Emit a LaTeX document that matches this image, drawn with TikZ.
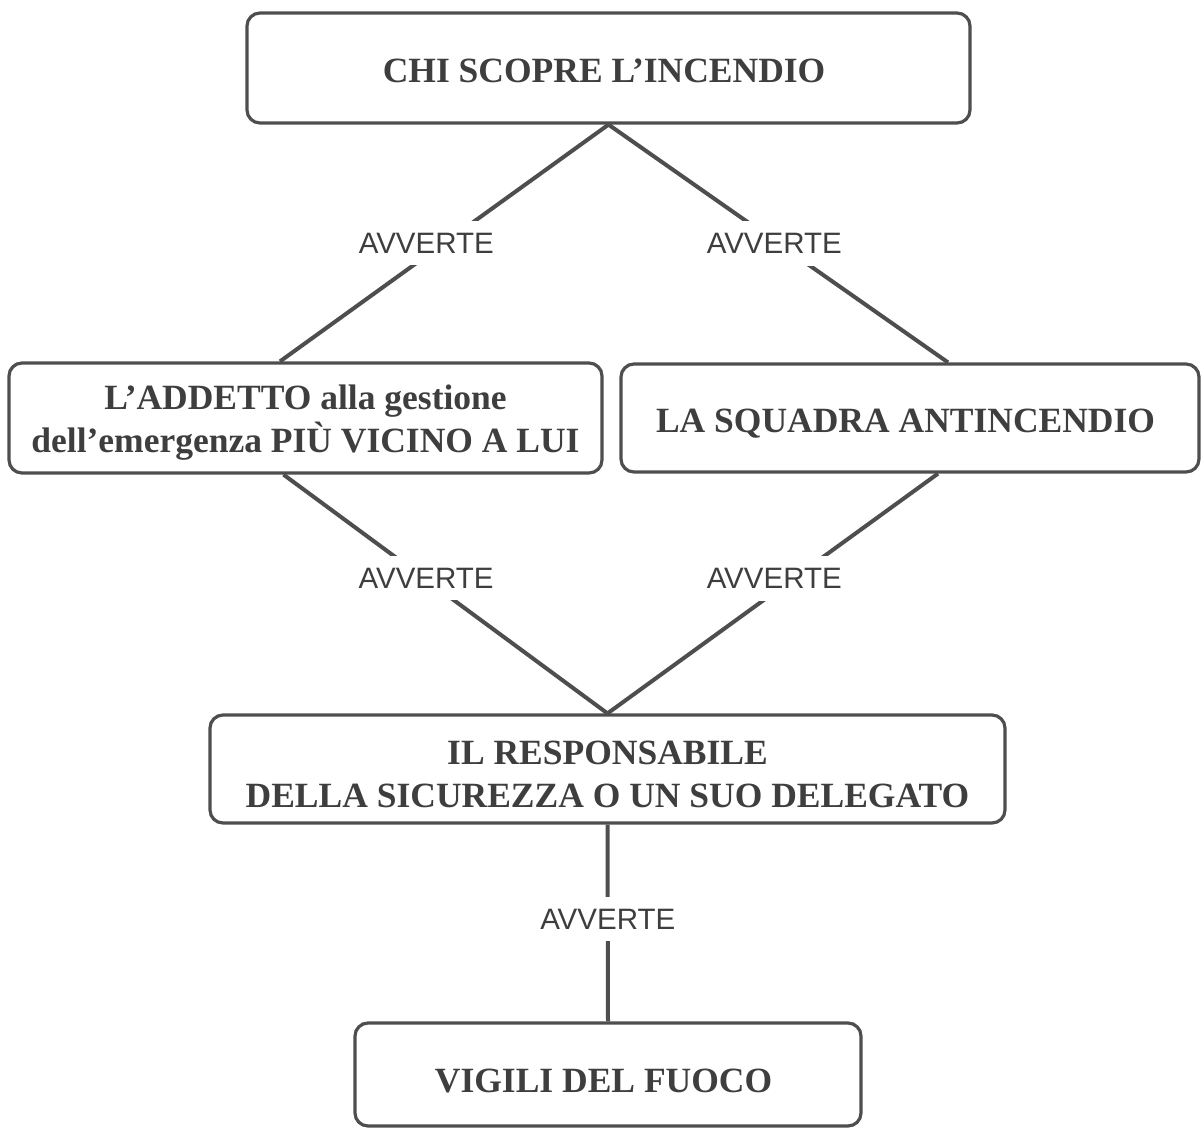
\documentclass[tikz,border=0pt]{standalone}
\usepackage{fontspec}
\setmainfont{Liberation Serif}
\newfontfamily\lblfont{Liberation Sans}
\definecolor{ink}{RGB}{78,78,78}
\definecolor{inktext}{RGB}{62,62,62}

\begin{document}
\begin{tikzpicture}[x=1pt,y=-1pt,
  box/.style={draw=ink,line width=3.2pt,rounded corners=13pt,inner sep=0pt,align=center,text=inktext,text depth=0pt,font=\bfseries\fontsize{35.5}{43}\selectfont},
  lbl/.style={fill=white,inner xsep=6pt,inner ysep=12pt,text=inktext,font=\lblfont\fontsize{29.5}{30}\selectfont},
  link/.style={draw=ink,line width=4pt}]
\useasboundingbox (0,0) rectangle (1203,1128);
\node[box,minimum width=723pt,minimum height=110pt,text height=28pt] (chi)     at (608.5,68)   { CHI SCOPRE L’INCENDIO };
\node[box,minimum width=593pt,minimum height=110pt,text height=68pt] (addetto) at (305.5,418)  { L’ADDETTO alla gestione\\dell’emergenza PIÙ VICINO A LUI };
\node[box,minimum width=578pt,minimum height=108pt,text height=28pt] (squadra) at (910,418)    { LA SQUADRA ANTINCENDIO };
\node[box,minimum width=795pt,minimum height=108pt,text height=76pt] (resp)    at (607.5,769)  { IL RESPONSABILE\\DELLA SICUREZZA O UN SUO DELEGATO };
\node[box,minimum width=506pt,minimum height=103pt,text height=35pt] (vigili)  at (608,1074.5) { VIGILI DEL FUOCO };
\draw[link] (chi.south)                  -- node[lbl,pos=0.5,xshift=-18pt]  {AVVERTE} ([xshift=-25.5pt]addetto.north);
\draw[link] (chi.south)                  -- node[lbl,pos=0.5,xshift=-4pt]   {AVVERTE} ([xshift=38pt]squadra.north);
\draw[link] ([xshift=-22pt]addetto.south) -- node[lbl,pos=0.434,xshift=2pt] {AVVERTE} (resp.north);
\draw[link] ([xshift=28pt]squadra.south)  -- node[lbl,pos=0.438,xshift=-19pt]{AVVERTE} (resp.north);
\draw[link] (resp.south)                 -- node[lbl,pos=0.48]              {AVVERTE} (vigili.north);
\end{tikzpicture}
\end{document}
